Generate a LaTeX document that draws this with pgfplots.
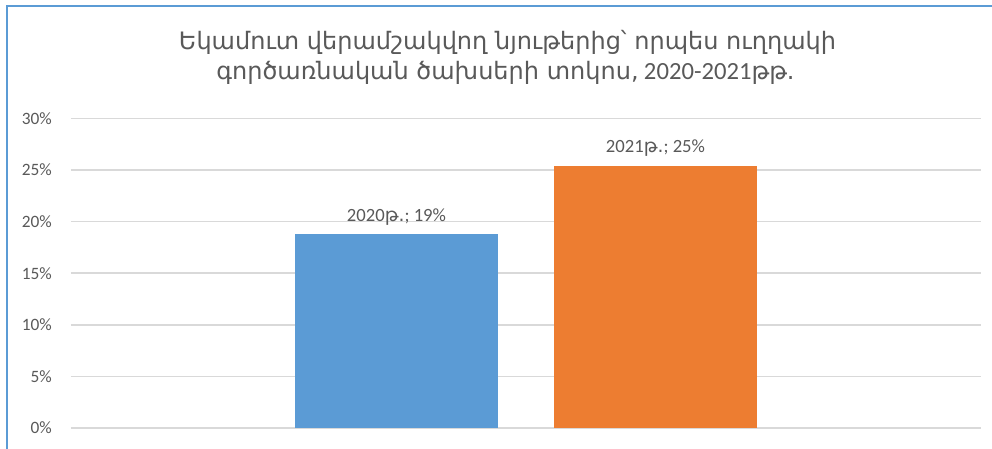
\documentclass[border=0pt]{standalone}
\usepackage{pgfplots}
\pgfplotsset{compat=1.18}
\usepackage{fontspec}
\setmainfont{Carlito}
\newfontfamily\arm{DejaVu Sans}
\definecolor{txt}{HTML}{595959}
\definecolor{gridc}{HTML}{D9D9D9}
\definecolor{cblue}{HTML}{5B9BD5}
\definecolor{corange}{HTML}{ED7D31}
\definecolor{frameblue}{HTML}{5B9BD5}
\begin{document}
\begin{tikzpicture}
\useasboundingbox (0pt,0pt) rectangle (744pt,-336.75pt);
\draw[frameblue, line width=1.1pt] (5.25pt,-336.75pt) -- (5.25pt,-4.5pt) -- (744pt,-4.5pt);
\node[anchor=base, text=txt, inner sep=0pt, font=\fontsize{18}{22}\selectfont] at (380.6pt,-37.1pt) {\arm Եկամուտ վերամշակվող նյութերից՝ որպես ուղղակի};
\node[anchor=base, text=txt, inner sep=0pt, font=\fontsize{18}{22}\selectfont] at (379.1pt,-60pt) {{\arm գործառնական ծախսերի տոկոս,} {\fontsize{18.5}{22}\selectfont 2020-2021}{\arm թթ.}};
\begin{axis}[
  at={(53.25pt,-321pt)}, anchor=south west,
  scale only axis, width=682.5pt, height=232.125pt,
  xmin=-1, xmax=1, ymin=0, ymax=30,
  ybar=42pt, bar width=152.25pt,
  axis line style={draw=none},
  major tick length=0pt,
  xtick=\empty,
  ytick={0,5,10,15,20,25,30},
  yticklabel={\pgfmathprintnumber{\tick}\%},
  /pgf/number format/assume math mode=true,
  yticklabel style={anchor=east, inner sep=0pt, xshift=-14.25pt, text=txt, font=\fontsize{13}{15}\selectfont},
  ymajorgrids,
  grid style={gridc, line width=1.2pt},
  nodes near coords style={anchor=base, inner sep=0pt, yshift=9.75pt, text=txt, font=\fontsize{14}{16}\selectfont},
  clip=false,
]
\addplot[fill=cblue, draw=none, nodes near coords={2020{\arm թ.}; 19\%}] coordinates {(0,18.8)};
\addplot[fill=corange, draw=none, nodes near coords={2021{\arm թ.}; 25\%}] coordinates {(0,25.4)};
\end{axis}
\end{tikzpicture}
\end{document}
